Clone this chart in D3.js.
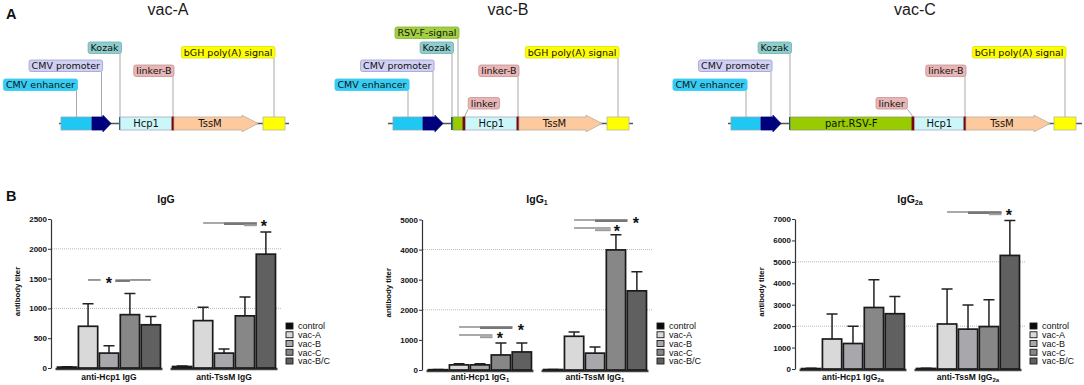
<!DOCTYPE html>
<html><head><meta charset="utf-8">
<script src="https://cdn.jsdelivr.net/npm/d3@7"></script>
<style>body{margin:0;background:#fff} svg{display:block}</style>
</head><body><svg id="c" width="1084" height="385"></svg>
<script>
// ================= DATA =================
// Panel A: construct maps (positions in bp-like units)
const constructNames = ["vac-A", "vac-B", "vac-C"];
const constructLengths = [2300, 2450, 3540];
const vacAFeatures = [
  {name:"CMV enhancer", start:20, end:330},
  {name:"CMV promoter", start:330, end:520},
  {name:"Kozak", start:610, end:610},
  {name:"Hcp1", start:612, end:1130},
  {name:"linker-B", start:1130, end:1150},
  {name:"TssM", start:1150, end:1990},
  {name:"bGH poly(A) signal", start:2040, end:2260}
];
const vacBFeatures = [
  {name:"CMV enhancer", start:50, end:350},
  {name:"CMV promoter", start:350, end:550},
  {name:"Kozak", start:640, end:640},
  {name:"RSV-F-signal", start:650, end:750},
  {name:"linker", start:750, end:775},
  {name:"Hcp1", start:775, end:1290},
  {name:"linker-B", start:1290, end:1310},
  {name:"TssM", start:1310, end:2140},
  {name:"bGH poly(A) signal", start:2190, end:2410}
];
const vacCFeatures = [
  {name:"CMV enhancer", start:30, end:330},
  {name:"CMV promoter", start:330, end:530},
  {name:"Kozak", start:620, end:620},
  {name:"part.RSV-F", start:625, end:1840},
  {name:"linker", start:1840, end:1865},
  {name:"Hcp1", start:1865, end:2360},
  {name:"linker-B", start:2360, end:2380},
  {name:"TssM", start:2380, end:3220},
  {name:"bGH poly(A) signal", start:3260, end:3480}
];

// Panel B: antibody titers
const seriesNames = ["control", "vac-A", "vac-B", "vac-C", "vac-B/C"];
const antigenGroups = ["Hcp1", "TssM"];
const chartTitles = ["IgG", "IgG", "IgG"];
const chartSubs = ["", "1", "2a"];

const iggTicks = [0, 500, 1000, 1500, 2000, 2500];
const iggGrid = [1000, 2000];
const iggHcp1 = [15, 700, 250, 895, 725];
const iggHcp1Err = [5, 380, 125, 355, 140];
const iggTssM = [25, 795, 250, 875, 1910];
const iggTssMErr = [10, 225, 70, 315, 370];

const igg1Ticks = [0, 1000, 2000, 3000, 4000, 5000];
const igg1Grid = [2000, 4000];
const igg1Hcp1 = [10, 170, 170, 500, 600];
const igg1Hcp1Err = [5, 40, 40, 400, 300];
const igg1TssM = [15, 1120, 560, 3990, 2630];
const igg1TssMErr = [5, 140, 200, 500, 630];

const igg2aTicks = [0, 1000, 2000, 3000, 4000, 5000, 6000, 7000];
const igg2aGrid = [2000, 5000];
const igg2aHcp1 = [20, 1400, 1190, 2870, 2580];
const igg2aHcp1Err = [10, 1170, 800, 1300, 800];
const igg2aTssM = [25, 2100, 1860, 1980, 5300];
const igg2aTssMErr = [10, 1630, 1130, 1250, 1630];

// significance bars: value level, segments in bar-index units, star index
const iggSig = [
  {group:"Hcp1", value:1477, segs:[[1,1.6,"thin"],[2.3,3,"thick"],[3,4,"thin"]], star:2},
  {group:"TssM", value:2433, segs:[[1,3.57,"thin"],[2,3.57,"thick"],[2.95,3.57,"light"]], star:3.9}
];
const igg1Sig = [
  {group:"Hcp1", value:1429, segs:[[1,3.55,"thin"],[2,3.55,"thick"]], star:3.95},
  {group:"Hcp1", value:1163, segs:[[1,2.6,"thin"],[2,2.6,"light"]], star:2.95},
  {group:"TssM", value:4983, segs:[[1,3.55,"thin"],[2,3.55,"thick"]], star:3.95},
  {group:"TssM", value:4718, segs:[[1,2.75,"thin"],[2,2.75,"light"]], star:3.05}
];
const igg2aSig = [
  {group:"TssM", value:7327, segs:[[1,3.6,"thin"],[2,3.6,"thick"],[3,3.6,"light"]], star:3.95}
];

// ================= STYLE / LAYOUT =================
const svg = d3.select("#c");
const seriesColors = ["#0c0c0c", "#d9d9d9", "#a7a7ac", "#878787", "#606060"];
const featureStyle = {
  "CMV enhancer": {shape:"rect", fill:"#1ec8f2", stroke:"#8aa9b8"},
  "CMV promoter": {shape:"arrow", fill:"#00007c", stroke:"#00007c", head:8},
  "Kozak": {shape:"mark", fill:"#1d5c5c"},
  "RSV-F-signal": {shape:"rect", fill:"#99cc00", stroke:"#8aa060"},
  "linker": {shape:"rect", fill:"#780808", stroke:"#780808"},
  "linker-B": {shape:"rect", fill:"#780808", stroke:"#780808"},
  "Hcp1": {shape:"rect", fill:"#ccf7f9", stroke:"#a9a9c4", text:true},
  "TssM": {shape:"arrow", fill:"#fdca9e", stroke:"#b9a9a0", head:16, text:true},
  "part.RSV-F": {shape:"rect", fill:"#99cc00", stroke:"#88a060", text:true},
  "bGH poly(A) signal": {shape:"rect", fill:"#ffff00", stroke:"#b8b8a0"}
};
const labelStyle = {
  "CMV enhancer": {fill:"#36cdf4", stroke:"#36cdf4"},
  "CMV promoter": {fill:"#d0d0f2", stroke:"#9c9cd8"},
  "Kozak": {fill:"#8fcdcd", stroke:"#6fb0b0"},
  "RSV-F-signal": {fill:"#a2d040", stroke:"#86b530"},
  "linker": {fill:"#e8b6b6", stroke:"#c99090"},
  "linker-B": {fill:"#e8b6b6", stroke:"#c99090"},
  "bGH poly(A) signal": {fill:"#ffff00", stroke:"#e0e000"}
};
const labelRows = {
  "RSV-F-signal":27, "Kozak":42, "bGH poly(A) signal":46.5, "CMV promoter":60,
  "linker-B":65, "CMV enhancer":79, "linker":97.5
};
const constructLayout = [
  {x0:59, titleX:168, features:vacAFeatures, linkerDx:null},
  {x0:388, titleX:508, features:vacBFeatures, linkerDx:4},
  {x0:728, titleX:915, features:vacCFeatures, linkerDx:-6}
];
const featTop = 117, featH = 13, featMid = featTop + featH/2;
const pxPerUnit = 0.1;

// ================= PANEL A =================
svg.append("text").attr("x", 6).attr("y", 18.5).text("A")
  .attr("font-family","Liberation Sans, Arial").attr("font-weight","bold").attr("font-size",14.5).attr("fill","#111");

constructNames.forEach((cname, ci) => {
  const lay = constructLayout[ci];
  const len = constructLengths[ci];
  const sx = d3.scaleLinear().domain([0, len]).range([lay.x0, lay.x0 + len*pxPerUnit]);
  const g = svg.append("g");
  g.append("text").attr("x", lay.titleX).attr("y", 15).attr("text-anchor","middle")
    .attr("font-family","Liberation Sans, Arial").attr("font-size",16).attr("fill","#1a1a1a").text(cname);
  g.append("line").attr("x1", sx(0)).attr("x2", sx(len)).attr("y1", featMid).attr("y2", featMid)
    .attr("stroke","#555").attr("stroke-width",1.6);
  const lg = g.append("g");
  lay.features.forEach(f => {
    if (!(f.name in labelStyle)) return;
    const mid = f.start === f.end ? sx(f.start) : (sx(f.start) + sx(f.end)) / 2;
    const top = labelRows[f.name];
    const st = labelStyle[f.name];
    const isLinker = f.name === "linker";
    let anchor = "end", edge = mid + 1;
    if (isLinker) { if (lay.linkerDx > 0) { anchor = "start"; edge = mid + lay.linkerDx; } else { edge = mid + lay.linkerDx; } }
    const rect = lg.append("rect");
    const t = lg.append("text").attr("x", anchor === "end" ? edge - 2.5 : edge + 2.5).attr("y", top + 9)
      .attr("text-anchor", anchor).attr("font-family","DejaVu Sans, Verdana").attr("font-size",9.5)
      .attr("fill","#111").text(f.name);
    const bb = t.node().getBBox();
    rect.attr("x", bb.x - 2.5).attr("y", top).attr("width", bb.width + 5).attr("height", 11.5)
      .attr("rx", 2).attr("fill", st.fill).attr("stroke", st.stroke).attr("stroke-width", 0.8);
    const x1 = isLinker ? edge : mid;
    lg.insert("line", ":first-child").attr("x1", x1).attr("y1", top + 11.5).attr("x2", mid).attr("y2", featTop)
      .attr("stroke","#aaa").attr("stroke-width",1);
  });
  const fg = g.append("g");
  lay.features.forEach(f => {
    const st = featureStyle[f.name];
    const x0 = sx(f.start), x1 = sx(f.end);
    if (st.shape === "rect") {
      fg.append("rect").attr("x", x0).attr("y", featTop).attr("width", Math.max(x1 - x0, 1.5)).attr("height", featH)
        .attr("fill", st.fill).attr("stroke", st.stroke).attr("stroke-width", 0.8);
    } else if (st.shape === "arrow") {
      const h = st.head;
      const pts = [[x0,featTop],[x1-h,featTop],[x1-h,featTop-1.8],[x1,featMid],[x1-h,featTop+featH+1.8],[x1-h,featTop+featH],[x0,featTop+featH]];
      fg.append("polygon").attr("points", pts.map(p => p.join(",")).join(" "))
        .attr("fill", st.fill).attr("stroke", st.stroke).attr("stroke-width", 0.8);
    } else if (st.shape === "mark") {
      fg.append("rect").attr("x", x0 - 1).attr("y", featTop).attr("width", 2).attr("height", featH).attr("fill", st.fill);
    }
    if (st.text) {
      const cx = st.shape === "arrow" ? (x0 + x1 - st.head) / 2 + 2 : (x0 + x1) / 2;
      fg.append("text").attr("x", cx).attr("y", featMid + 3.6).attr("text-anchor","middle")
        .attr("font-family","DejaVu Sans, Verdana").attr("font-size",10).attr("fill","#111").text(f.name);
    }
  });
});

// ================= PANEL B =================
svg.append("text").attr("x", 6).attr("y", 200.5).text("B")
  .attr("font-family","Liberation Sans, Arial").attr("font-weight","bold").attr("font-size",14.5).attr("fill","#111");

const chartCfgs = [
  {axisX:51, y0:368, yTop:219, max:2500, ticks:iggTicks, grid:iggGrid, vals:[iggHcp1, iggTssM], errs:[iggHcp1Err, iggTssMErr], sig:iggSig},
  {axisX:422, y0:370, yTop:219.5, max:5000, ticks:igg1Ticks, grid:igg1Grid, vals:[igg1Hcp1, igg1TssM], errs:[igg1Hcp1Err, igg1TssMErr], sig:igg1Sig},
  {axisX:795, y0:369, yTop:219, max:7000, ticks:igg2aTicks, grid:igg2aGrid, vals:[igg2aHcp1, igg2aTssM], errs:[igg2aHcp1Err, igg2aTssMErr], sig:igg2aSig}
];
const segStyle = {
  thin: {stroke:"#555", w:1.2, dy:0},
  thick: {stroke:"#777", w:2.6, dy:0.7},
  light: {stroke:"#9c9c9c", w:2.0, dy:2.2}
};
const FONT = "Liberation Sans, Arial, sans-serif";

function igText(sel, base, sub, subSize) {
  sel.append("tspan").text(base);
  if (sub) sel.append("tspan").attr("font-size", subSize).attr("dy", subSize*0.35).text(sub);
}

chartCfgs.forEach((cfg, ci) => {
  const g = svg.append("g");
  const y = d3.scaleLinear().domain([0, cfg.max]).range([cfg.y0, cfg.yTop]);
  const gx = d3.scaleBand().domain(antigenGroups).range([cfg.axisX + 4.5, cfg.axisX + 4.5 + 222])
    .paddingInner(0.07).paddingOuter(0);
  const bx = d3.scaleBand().domain(seriesNames).range([2, gx.bandwidth() - 2]).paddingInner(0.08);
  const idxX = (grp, i) => gx(grp) + bx.range()[0] + i * bx.step() + bx.bandwidth() / 2;

  const tt = g.append("text").attr("x", cfg.axisX + 115).attr("y", 202.5).attr("text-anchor","middle")
    .attr("font-family", FONT).attr("font-weight","bold").attr("font-size",10.5).attr("fill","#111");
  igText(tt, chartTitles[ci], chartSubs[ci], 7);

  g.selectAll(".grid").data(cfg.grid).join("line")
    .attr("x1", cfg.axisX + 1).attr("x2", cfg.axisX + 231)
    .attr("y1", d => y(d)).attr("y2", d => y(d))
    .attr("stroke","#b8b8b8").attr("stroke-width",1).attr("stroke-dasharray","1,1");

  const ax = g.append("g").attr("transform", `translate(${cfg.axisX},0)`)
    .call(d3.axisLeft(y).tickValues(cfg.ticks).tickSize(3).tickSizeOuter(0).tickPadding(1).tickFormat(d3.format("d")));
  ax.select(".domain").attr("stroke","#333").attr("stroke-width",1.2);
  ax.selectAll(".tick line").attr("stroke","#333").attr("stroke-width",1);
  ax.selectAll(".tick text").attr("font-family", FONT).attr("font-weight","bold").attr("font-size",8).attr("fill","#111");

  g.append("text").attr("transform", `translate(${cfg.axisX - 31},${(cfg.y0 + cfg.yTop) / 2 - 2}) rotate(-90)`)
    .attr("text-anchor","middle").attr("font-family", FONT).attr("font-weight","bold").attr("font-size",7.8)
    .attr("fill","#111").text("antibody titer");

  antigenGroups.forEach((grp, gi) => {
    const gg = g.append("g").attr("transform", `translate(${gx(grp)},0)`);
    gg.append("line").attr("x1", 0).attr("x2", gx.bandwidth()).attr("y1", cfg.y0 + 1).attr("y2", cfg.y0 + 1)
      .attr("stroke","#444").attr("stroke-width",2.6);
    const rows = seriesNames.map((s, i) => ({s, i, v: cfg.vals[gi][i], e: cfg.errs[gi][i]}));
    gg.selectAll(".err").data(rows).join("path")
      .attr("d", d => {
        const cx = bx(d.s) + bx.bandwidth() / 2;
        return `M${cx},${y(d.v)}V${y(d.v + d.e)}M${cx - 5.5},${y(d.v + d.e)}H${cx + 5.5}`;
      })
      .attr("stroke","#222").attr("stroke-width",1.5).attr("fill","none");
    gg.selectAll(".bar").data(rows).join("rect")
      .attr("x", d => bx(d.s)).attr("width", bx.bandwidth())
      .attr("y", d => y(d.v)).attr("height", d => cfg.y0 - y(d.v))
      .attr("fill", d => seriesColors[d.i]).attr("stroke","#1a1a1a").attr("stroke-width",1.7);
    const xl = gg.append("text").attr("x", gx.bandwidth() / 2).attr("y", 379.5).attr("text-anchor","middle")
      .attr("font-family", FONT).attr("font-weight","bold").attr("font-size",8.5).attr("fill","#111");
    igText(xl, `anti-${grp} ${chartTitles[ci]}`, chartSubs[ci], 6);
  });

  cfg.sig.forEach(sg => {
    const ly = y(sg.value);
    sg.segs.forEach(([a, b, kind]) => {
      const st = segStyle[kind];
      g.append("line").attr("x1", idxX(sg.group, a)).attr("x2", idxX(sg.group, b))
        .attr("y1", ly + st.dy).attr("y2", ly + st.dy).attr("stroke", st.stroke).attr("stroke-width", st.w);
    });
    g.append("text").attr("x", idxX(sg.group, sg.star)).attr("y", ly + 9).attr("text-anchor","middle")
      .attr("font-family", FONT).attr("font-weight","bold").attr("font-size",16).attr("fill","#111").text("*");
  });

  const lgX = cfg.axisX + 235;
  const leg = g.selectAll(".leg").data(seriesNames).join("g")
    .attr("transform", (d, i) => `translate(${lgX},${323 + i * 8.75})`);
  leg.append("rect").attr("width", 7).attr("height", 6).attr("fill", (d, i) => seriesColors[i])
    .attr("stroke","#1a1a1a").attr("stroke-width",0.9);
  leg.append("text").attr("x", 12).attr("y", 6.4).attr("font-family", FONT).attr("font-size",9)
    .attr("fill","#111").text(d => d);
});
</script></body></html>
